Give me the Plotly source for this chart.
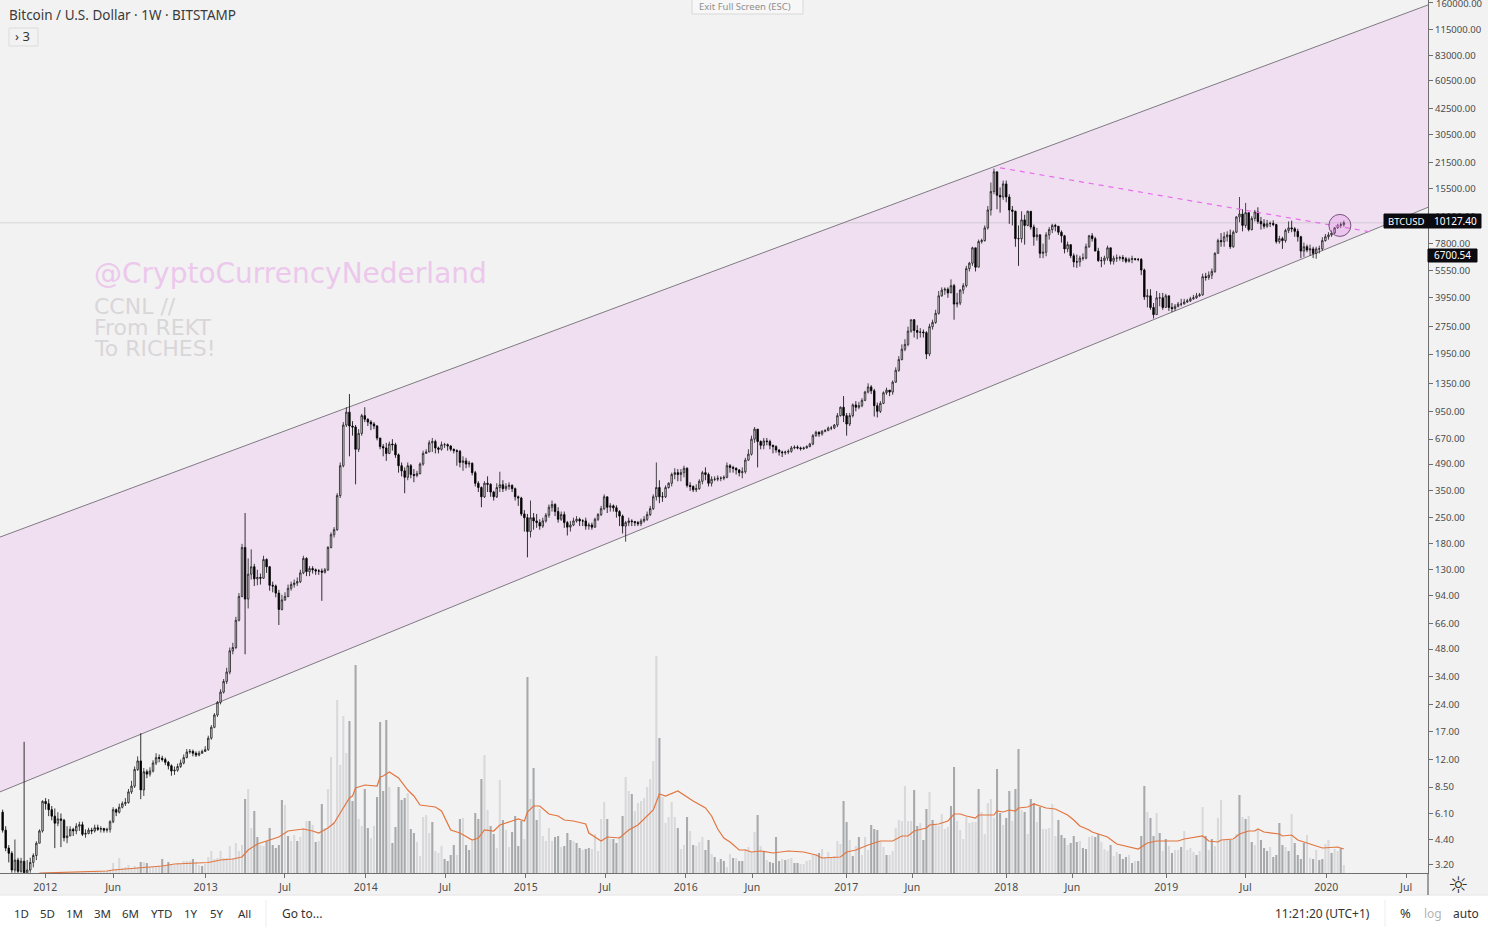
import pandas as pd
import plotly.graph_objects as go

first_week = "2011-09-26"
first_open = 6.2

closes = [
4.95,3.95,3.7,3.0,3.4,2.95,3.35,2.9,3.0,3.3,
3.6,4.2,4.9,7.1,6.9,6.4,5.9,5.4,5.7,5.6,
4.5,4.6,5.0,4.9,5.2,5.3,4.7,4.75,4.95,4.9,
5.1,5.0,5.05,4.95,5.0,5.5,6.4,6.2,6.6,6.9,
7.0,8.0,8.6,10.6,11.8,8.2,10.3,10.0,10.4,11.5,
12.3,12.2,12.0,11.6,11.1,10.4,10.5,11.0,11.5,12.3,
13.2,13.3,13.0,12.7,13.0,13.3,13.6,15.7,18,21,
24.6,28,32,36,47,49,69,93,172,90,
123,135,116,118,117,148,135,107,106,97,
79,89,93,103,108,110,112,125,150,127,
132,130,128,128,126,130,172,202,215,330,
480,800,940,790,780,590,720,900,860,830,
810,790,680,610,600,560,630,625,550,480,
450,415,480,430,425,435,490,560,570,640,
650,600,590,625,625,615,590,580,575,500,
510,490,495,440,385,365,325,385,380,345,
325,365,378,360,370,375,360,325,320,262,
250,210,250,240,235,225,240,258,285,295,
270,245,260,235,222,228,240,245,240,240,
225,228,222,245,260,280,325,285,290,283,
270,255,225,235,240,238,235,232,240,245,
260,280,325,365,325,325,365,385,430,440,
430,440,465,375,370,355,360,395,440,430,
385,405,405,410,410,415,480,470,465,455,
440,445,515,555,670,760,650,620,655,650,
620,610,585,570,565,570,575,600,605,600,
595,600,610,630,700,730,715,740,745,770,
770,800,900,1000,900,810,900,1030,1000,1020,
1090,1210,1290,1230,1020,950,1050,1200,1240,1210,
1370,1590,1820,2070,2200,2600,3000,2620,2560,2570,
2550,1950,2750,2900,3250,4050,4350,4400,4200,4600,
3650,3700,4350,4600,5700,6100,7400,5800,8000,8100,
9500,11900,15000,19200,14300,14000,16500,14000,11900,11700,
8300,8300,10500,9800,11700,9600,8500,8700,6900,7000,
8700,9300,9800,9700,9000,8600,7300,7700,6700,6200,
6200,6500,6500,7500,8600,8300,7100,6300,6300,6500,
7400,6250,6500,6500,6550,6450,6250,6400,6450,6400,
6400,5600,4000,4050,3500,3200,3950,3950,3500,4050,
3500,3450,3550,3650,3650,3750,3800,3900,3950,4050,
4100,5150,5100,5250,5500,6900,8100,8000,8500,8700,
7500,9000,10900,11300,9800,11500,9300,10700,11600,10300,
10000,9700,10000,10050,9900,8000,8300,8100,9200,9500,
9400,9100,8500,7100,7500,7200,7300,6900,7300,7300,
8100,8500,8700,8900,9500,9800,9900,10127.4,
]

highs = [
6.4,5.2,4.1,3.8,4.4,3.5,3.5,15,3.4,3.5,
3.7,4.3,5.0,7.2,7.4,7.3,6.7,6.5,6.2,6.1,
5.7,5.2,5.2,5.1,5.4,5.5,5.5,5.0,5.1,5.1,
5.3,5.3,5.2,5.1,5.1,5.6,6.6,6.5,6.9,7.1,
7.4,8.3,9.2,11,12.5,16.7,10.8,10.6,10.9,11.9,
13,12.8,12.6,12.3,11.8,11.3,11.0,11.4,12,12.8,
13.7,13.7,13.6,13.3,13.4,13.6,14.2,16.2,18.5,21.5,
25,29,33,38,49,52,72,97,180,265,
150,168,140,130,124,155,150,136,112,108,
101,95,98,108,112,115,118,130,155,152,
136,136,132,131,132,133,175,208,222,340,
500,830,1000,1180,840,800,760,920,1000,870,
850,830,800,660,630,640,650,670,640,560,
500,470,500,490,460,450,500,580,590,660,
680,665,610,650,640,635,620,595,590,585,
540,530,510,500,450,395,370,395,420,385,
350,385,445,400,385,390,380,365,330,325,
275,262,310,265,262,245,250,265,295,310,
300,285,270,270,240,240,250,255,250,245,
250,235,235,250,265,290,335,320,300,295,
292,275,260,240,250,245,240,240,247,255,
270,290,335,500,400,345,375,390,440,465,
460,460,480,470,390,375,380,405,450,470,
440,420,420,425,420,425,500,490,480,470,
460,470,530,590,700,780,760,660,680,680,
665,625,620,590,580,580,590,615,620,620,
610,610,620,640,715,745,740,750,760,785,
790,810,930,1010,1150,930,930,1050,1080,1070,
1120,1230,1350,1320,1260,1060,1080,1220,1280,1240,
1400,1650,1900,2200,2350,2750,3000,3020,2800,2700,
2650,2600,2850,3000,3400,4300,4500,4500,4500,4980,
4700,4200,4400,4750,5900,6200,7500,7400,8200,8300,
9800,12500,16800,20000,17200,15800,17200,17200,14500,12500,
11800,9800,11700,11200,11800,11700,9900,9500,8800,7800,
9000,9600,10000,10000,9700,9200,8700,8000,7700,6900,
6800,6700,6900,7800,8700,8900,8500,7400,6600,6700,
7600,7400,6700,6800,6700,6750,6600,6550,6700,6500,
6500,6500,5700,4400,4400,3700,4300,4200,4200,4150,
4050,3700,3650,3750,3900,3900,3900,4000,4100,4200,
4200,5350,5400,5500,5700,7000,8300,8900,9000,9100,
9300,9200,11000,14000,12000,13000,11500,11000,11900,12300,
10900,10600,10500,10300,10450,10000,8600,8500,9400,10300,
10400,9600,9400,8600,7900,7700,7700,7500,7500,7600,
8450,8800,9000,9200,9600,10000,10200,10400,
]

lows = [
4.8,3.8,3.3,2.9,2.9,2.8,2.9,2.7,2.9,2.9,
3.1,3.4,4.2,4.8,6.4,5.9,5.6,3.95,5.2,4.0,
4.3,4.2,4.8,4.6,4.7,4.9,4.6,4.5,4.7,4.7,
4.8,4.9,4.8,4.8,4.8,4.8,5.4,5.9,6.1,6.5,
6.7,6.9,7.8,8.4,10.4,7.3,7.6,9.5,9.7,10.2,
11.2,11.6,11.7,11.2,10.6,9.8,9.9,10.3,10.8,11.3,
12.2,12.9,12.5,12.4,12.5,12.9,13.2,13.4,15.4,17.8,
20.5,24,27.5,31,35,45,48,68,92,45,
80,115,106,107,108,116,125,100,98,92,
65,78,88,92,100,104,106,110,123,120,
120,124,122,122,88,124,128,170,195,212,
320,470,780,540,700,380,570,700,830,790,
750,760,660,590,540,510,555,580,530,440,
420,340,400,410,390,415,430,480,560,570,
570,560,560,580,600,580,575,560,480,470,
450,465,470,425,370,345,285,320,345,325,
310,320,345,345,350,355,345,310,290,255,
210,152,195,215,220,215,220,235,250,270,
255,235,240,220,200,210,225,235,225,225,
215,215,215,220,240,255,275,265,270,270,
250,225,205,185,225,225,225,225,225,235,
240,255,275,310,300,305,320,360,370,405,
395,395,415,365,350,345,345,355,380,400,
370,370,395,395,395,400,410,440,440,430,
420,410,435,510,545,640,470,590,590,620,
590,560,565,545,535,550,555,565,590,590,
580,585,595,605,620,690,690,700,730,745,
750,760,780,890,830,700,790,880,950,975,
1000,1080,1190,1180,890,880,930,1040,1170,1150,
1170,1360,1560,1800,2020,2150,2550,2400,2350,2400,
2400,1830,1900,2650,2850,3200,4000,4100,3950,4200,
3000,3500,3600,4150,4500,5500,5900,5500,5800,7800,
8000,9300,11100,14500,12000,11500,13500,13100,10000,9800,
7500,5900,7900,7700,9700,9300,7600,8100,6500,6500,
6650,8200,8900,9100,8700,7900,6900,7000,6500,5800,
5750,5850,6300,6400,7400,8000,7100,6200,5800,6000,
6300,6000,6000,6200,6300,6200,6100,6150,6100,6300,
6250,5250,3850,3500,3400,3050,3200,3550,3400,3500,
3350,3300,3350,3500,3550,3650,3700,3750,3850,3900,
4000,4050,4900,4950,5000,5400,6900,7500,7500,8000,
7300,7400,8900,10200,9100,9500,9100,9200,10300,10000,
9300,9400,9500,9600,9700,7800,7800,7300,7900,8900,
9000,8500,8000,6500,6600,7000,6700,6500,6450,6900,
7150,8000,8200,8500,8800,9400,9500,9650,
]

volumes = [
0,0,0,0,0,0,0,0,0,0,
0,0,0,0,0.5,0.5,0.5,0.5,0.5,0.5,
1,1,1,1,1,1,1.5,1.5,1.5,1.5,
1.5,2,2,2,2,3,10,4,15,5,
6,8,5,7,6,11,11,10,6,6,
6,7,14,7,11,8,8,10,9,12,
12,12,14,11,8,7,9,16,22,14,
15,22,15,15,27,15,30,22,28,74,
84,45,62,36,28,27,32,45,28,25,
28,73,68,37,32,38,32,36,45,52,
52,48,31,32,69,45,84,116,51,173,
108,157,120,152,72,208,54,47,84,45,
35,47,76,151,82,153,86,30,46,86,
73,75,80,44,40,31,17,56,58,40,
51,22,20,27,14,12,18,28,18,54,
55,28,23,32,60,54,94,118,63,47,
39,25,93,53,43,26,41,57,27,52,
34,196,74,105,53,64,37,32,45,32,
36,37,26,27,40,33,32,30,25,23,
24,25,24,39,22,54,71,54,34,34,
30,37,57,96,82,79,62,70,72,75,
86,94,112,217,135,76,50,56,71,56,
45,24,28,56,42,28,27,31,36,23,
33,19,16,11,14,12,6,19,15,15,
12,12,24,26,21,41,58,27,22,13,
11,10,36,12,14,13,14,15,10,10,
9,9,12,13,18,19,20,24,16,21,
16,17,32,29,72,51,33,17,27,36,
18,36,23,48,44,43,31,26,18,18,
22,45,53,52,87,52,52,83,47,50,
33,64,81,53,48,47,59,44,46,67,
106,52,43,34,56,50,51,51,84,61,
39,70,74,55,104,60,48,55,82,52,
84,124,63,61,39,74,70,51,66,44,
44,45,69,37,53,38,35,28,30,37,
31,32,25,24,36,37,36,39,31,24,
22,28,17,21,19,14,16,18,10,12,
12,37,87,61,55,37,60,40,22,34,
27,20,23,23,26,42,23,25,21,18,
22,66,37,23,34,27,55,73,33,33,
33,33,39,78,56,54,57,31,28,43,
33,25,22,26,16,18,50,28,26,22,
59,30,18,14,30,38,15,14,23,13,
14,29,33,20,24,22,25,8,
]

volume_side = (
"llllllllll" "llllllllll" "llllllllll" "llllllllll" "llllldldll"
"lldldlllll" "lldlldllll" "llllllllld" "llddlldddd" "ddldlldlll"
"dldldlllll" "llldddlldd" "llddddlddd" "ddlddlllll" "dlllddddld"
"lddldddlld" "dlldlldddd" "ldlddlllll" "ddldddlddl" "ddllllldld"
"dldlldllll" "lllldlllll" "dlldldllld" "dldlddlldl" "ddlllldldl"
"ddddldlldd" "lllllldlll" "llllddldld" "llldddlldl" "lllllllddl"
"ddldllllld" "dllllllldl" "llllddlddl" "ddldlddldl" "lllldddldd"
"dlddllddll" "ldlldddldl" "dddlddldld" "ldlldlllld" "lldldlllll"
"dlldldldll" "dddlddddld" "lddddlldld" "dlldlldl"
)

ma_week = [12,23,29,34,36,38,45,52,56,62,67,71,75,78,80,83,87,90,93,98,101,103,106,108,110,113,114,115,118,122,123,124,126,129,132,134,136,141,143,146,149,153,155,
157,160,162,166,168,170,171,173,175,178,181,183,186,190,191,195,197,201,204,207,212,214,216,220,225,229,231,233,235,237,240,242,244,247,251,256,261,265,267,273,275,278,282,286,290,293,295,297,301,302,305,308,310,312,
314,317,318,323,324,326,328,330,331,334,336,340,343,345,347,349,351,354,355,360,363,370,373,376,383,385,391,393,396,397,401,403,406,408,409,411,416,417,420,422,427,430,435,437]
ma_value = [0,1,1.5,2,3,3.5,6,7,9,10,10.5,13,14,16,23,29,33,36,42,44,42,40,45,50,60,75,77,85,88,87,96,97,101,95,83,77,68,66,62,43,40,33,35,
43,42,48,52,54,52,61,67,67,59,57,53,52,49,40,32,36,35,43,48,63,79,77,82,72,65,57,44,35,31,23,23,21,22,20,22,21,18,15,16,21,23,28,32,32,37,37,42,45,48,49,52,59,59,
57,55,58,58,62,61,63,62,65,66,69,65,64,61,58,53,47,43,41,36,29,24,30,32,32,34,37,32,31,33,34,39,42,42,44,41,39,37,38,33,28,25,26,24]

channel_dates = ["2011-09-20", "2020-08-20"]
channel_upper = [196, 156000]
channel_lower = [8.0, 12300]
trend_dates = ["2017-12-18", "2020-04-15"]
trend_prices = [20200, 9000]
last_price = 10127.4
circle_date = "2020-02-01"
circle_price = 9800

price_ticks = [160000,115000,83000,60500,42500,30500,21500,15500,11000,7800,5550,3950,2750,1950,1350,950,670,490,350,250,180,130,94,66,48,34,24,17,12,8.5,6.1,4.4,3.2]
time_ticks = ["2012-01-01","2012-06-04","2013-01-01","2013-07-01","2014-01-01","2014-07-01","2015-01-01","2015-07-01","2016-01-01","2016-06-01","2017-01-01","2017-06-01","2018-01-01","2018-06-01","2019-01-01","2019-07-01","2020-01-01","2020-07-01"]
time_labels = ["2012","Jun","2013","Jul","2014","Jul","2015","Jul","2016","Jun","2017","Jun","2018","Jun","2019","Jul","2020","Jul"]

FONT = "Noto Sans"
WATERMARK_FONT = "DejaVu Sans"
BG = "#f2f2f2"
INK = "#4b4b4b"
PW, PH = 1428, 873
LOG_RANGE = [0.4609, 5.2201]

dates = pd.date_range(first_week, periods=len(closes), freq="7D")
opens = [first_open] + closes[:-1]
H = [max(h, o, c) for h, o, c in zip(highs, opens, closes)]
L = [min(l, o, c) for l, o, c in zip(lows, opens, closes)]
ma_dates = [pd.Timestamp(first_week) + pd.Timedelta(days=7 * w) for w in ma_week]
vol_colors = ["#a7a9ab" if s == "d" else "#d9d9dc" for s in volume_side]

fig = go.Figure()
# channel on the base axis so it stays under everything else
fig.add_trace(go.Scatter(x=channel_dates + channel_dates[::-1], y=channel_upper + channel_lower[::-1],
                         fill="toself", fillcolor="#efdff1", mode="lines", line=dict(width=0), hoverinfo="skip"))
fig.add_trace(go.Scatter(x=channel_dates, y=channel_upper, mode="lines", line=dict(color="#807a83", width=1)))
fig.add_trace(go.Scatter(x=channel_dates, y=channel_lower, mode="lines", line=dict(color="#807a83", width=1)))
fig.add_trace(go.Scatter(x=channel_dates, y=[last_price, last_price], mode="lines", line=dict(color="rgba(120,120,120,0.22)", width=1)))
# volume
fig.add_trace(go.Bar(x=dates, y=volumes, marker=dict(color=vol_colors, line=dict(width=0)), yaxis="y2", hoverinfo="skip"))
fig.add_trace(go.Scatter(x=ma_dates, y=ma_value, yaxis="y2", mode="lines", line=dict(color="#e2753f", width=1.2), hoverinfo="skip"))
# candles and drawings on an overlaying price axis
fig.add_trace(go.Candlestick(x=dates, open=opens, high=H, low=L, close=closes, yaxis="y3",
                             increasing=dict(line=dict(color="#1a1a1a", width=0.8), fillcolor="#e9e3ea"),
                             decreasing=dict(line=dict(color="#000000", width=0.8), fillcolor="#000000"),
                             whiskerwidth=0, hoverinfo="skip"))
fig.add_trace(go.Scatter(x=trend_dates, y=trend_prices, yaxis="y3", mode="lines",
                         line=dict(color="#e96cee", width=1.2, dash="5px,5px")))
fig.add_trace(go.Scatter(x=[circle_date], y=[circle_price], yaxis="y3", mode="markers",
                         marker=dict(size=22, color="rgba(225,130,225,0.28)", line=dict(color="#76527a", width=1))))

def xp(px):
    return px / PW
def yp(py):
    return 1 - py / PH

notes = []
def note(text, x, y, size=12, color=INK, anchor="left", family=FONT):
    notes.append(dict(text=text, x=xp(x), y=yp(y), xref="paper", yref="paper", xanchor=anchor, yanchor="middle",
                      showarrow=False, font=dict(family=family, size=size, color=color)))

note("Bitcoin / U.S. Dollar · 1W · BITSTAMP", 7, 15, 13.5, "#3a3a3a")
note("› 3", 13, 36.5, 13, "#333333")
note("Exit Full Screen (ESC)", 745, 7, 9.5, "#8f8f8f", anchor="center")
note("@CryptoCurrencyNederland", 91.5, 273, 28, "#ecc8ec", family=WATERMARK_FONT)
note("CCNL //", 91.5, 306, 22, "#d9d6d9", family=WATERMARK_FONT)
note("From REKT", 91.5, 327, 22, "#d9d6d9", family=WATERMARK_FONT)
note("To RICHES!", 91.5, 348, 22, "#d9d6d9", family=WATERMARK_FONT)
note("160000.00", 1434, 3.5, 9.5, INK)
note("BTCUSD", 1406, 221, 9.5, "#ffffff", anchor="center")
note("10127.40", 1455, 221, 10, "#ffffff", anchor="center")
note("6700.54", 1452, 255, 10, "#ffffff", anchor="center")
for t, cx in zip(["1D","5D","1M","3M","6M","YTD","1Y","5Y","All"], [21,47,74,102,130,161,191,217,244]):
    note(t, cx, 913, 11.5, "#333333", anchor="center")
note("Go to...", 302, 913, 12, "#333333", anchor="center")
note("11:21:20 (UTC+1)", 1322, 913, 12, "#333333", anchor="center")
note("%", 1405, 913, 13, "#333333", anchor="center")
note("log", 1433, 913, 12, "#b5b5b5", anchor="center")
note("auto", 1466, 913, 12, "#333333", anchor="center")
note("☼", 1458, 884.5, 23, "#333333", anchor="center", family="DejaVu Sans")

def rect(x0, y0, x1, y1, fill, line=None):
    return dict(type="rect", xref="paper", yref="paper", x0=xp(x0), x1=xp(x1), y0=yp(y0), y1=yp(y1), fillcolor=fill,
                line=dict(color=line or fill, width=1), layer="above")
def seg(x0, y0, x1, y1, color, width=1):
    return dict(type="line", xref="paper", yref="paper", x0=xp(x0), x1=xp(x1), y0=yp(y0), y1=yp(y1),
                line=dict(color=color, width=width), layer="above")

shapes = [
    rect(0, 895, 1488, 930, "#ffffff"),
    seg(0, 895, 1488, 895, "#e2e2e4"),
    seg(266, 900, 266, 927, "#eeeeee"),
    seg(1385, 900, 1385, 927, "#eeeeee"),
    seg(1428, 873, 1428, 895, "#6f6f6f", 1.3),
    rect(9, 28, 38, 46, BG, "#dcdcdc"),
    rect(692, -3, 803, 14, "#f7f7f7", "#d8d8d8"),
    rect(1384, 214, 1428, 228, "#0b0b0f"),
    rect(1428, 214, 1481, 228, "#0b0b0f"),
    rect(1428, 249, 1477, 262, "#0b0b0f"),
]

fig.update_layout(
    width=1488, height=930, autosize=False,
    margin=dict(l=0, r=60, t=0, b=57, pad=0),
    paper_bgcolor=BG, plot_bgcolor=BG,
    showlegend=False, hovermode=False, bargap=0.32,
    font=dict(family=FONT, size=10, color=INK),
    annotations=notes, shapes=shapes,
    xaxis=dict(type="date", range=["2011-09-20", "2020-08-20"], rangeslider=dict(visible=False),
               tickmode="array", tickvals=time_ticks, ticktext=time_labels, ticks="outside", ticklen=4,
               tickcolor="#6f6f6f", tickfont=dict(family=FONT, size=10.5, color=INK),
               showgrid=False, zeroline=False, showline=True, linecolor="#6f6f6f", linewidth=1.3),
    yaxis=dict(type="log", range=LOG_RANGE, side="right", tickmode="array", tickvals=price_ticks,
               ticktext=[f"{v:.2f}" for v in price_ticks], ticks="outside", ticklen=4, tickcolor="#6f6f6f",
               tickfont=dict(family=FONT, size=9.5, color=INK), showgrid=False, zeroline=False,
               showline=True, linecolor="#6f6f6f", linewidth=1.3),
    yaxis2=dict(overlaying="y", range=[0, 873], visible=False, side="left"),
    yaxis3=dict(overlaying="y", type="log", range=LOG_RANGE, visible=False, side="right"),
)

fig.write_html("out.html", config=dict(displayModeBar=False),
               post_script="document.body.style.margin='0';document.body.style.overflow='hidden';")
